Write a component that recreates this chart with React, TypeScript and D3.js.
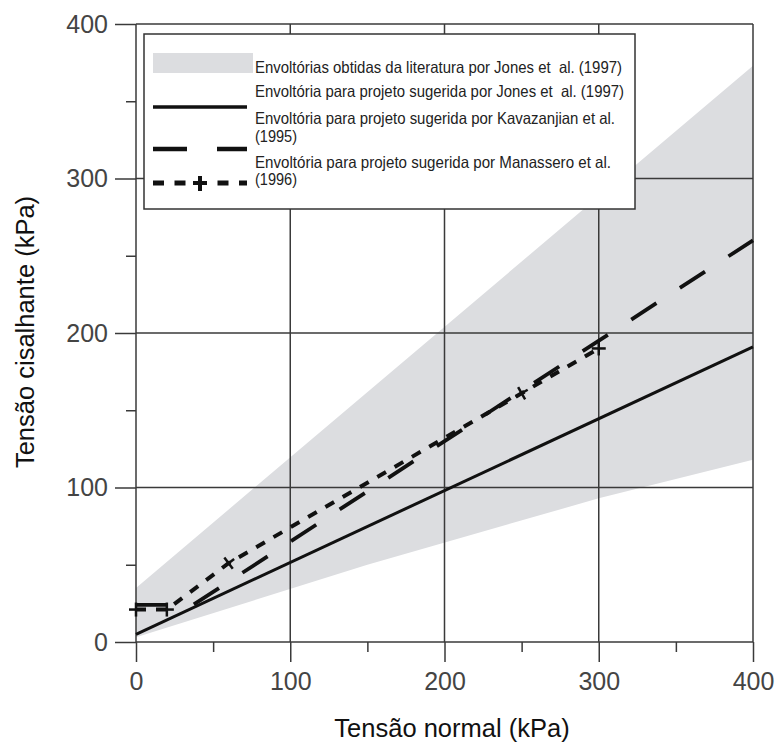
import React from "react";
import * as d3 from "d3";

// tick values (kPa)
const xMajor = [0, 100, 200, 300, 400];
const xMinor = [50, 150, 250, 350];
const yMajor = [0, 100, 200, 300, 400];
const yMinor = [50, 150, 250, 350];

// envelopes from literature, Jones et al. (1997) - shaded band
const envelopeUpper: [number, number][] = [[0, 35], [400, 373]];
const envelopeLower: [number, number][] = [[0, 3], [150, 50], [300, 93], [400, 118]];

// design envelopes
const jones: [number, number][] = [[0, 5], [400, 191]];
const kavazanjian: [number, number][] = [[0, 24], [37, 24], [400, 260]];
const manassero: [number, number][] = [[0, 21], [20, 21], [60, 51], [250, 161], [300, 190]];

const legendLabels = [
  ["Envoltórias obtidas da literatura por Jones et  al. (1997)"],
  ["Envoltória para projeto sugerida por Jones et  al. (1997)"],
  ["Envoltória para projeto sugerida por Kavazanjian et al.", "(1995)"],
  ["Envoltória para projeto sugerida por Manassero et al.", "(1996)"],
];

const xTitle = "Tensão normal (kPa)";
const yTitle = "Tensão cisalhante (kPa)";

const W = 779;
const H = 743;
const GRID = "#3a3a3a";
const SHADE = "#dcdde0";
const FONT = "'Liberation Sans', Arial, sans-serif";

function drawChart(node: SVGSVGElement) {
  const svg = d3.select(node);
  svg.selectAll("*").remove();

  const x = d3.scaleLinear().domain([0, 400]).range([136, 753]);
  const y = d3.scaleLinear().domain([0, 400]).range([642, 24]);

  const line = d3
    .line<[number, number]>()
    .x((d) => x(d[0]))
    .y((d) => y(d[1]));

  // shaded band
  const band = envelopeUpper.concat(envelopeLower.slice().reverse());
  svg.append("path").attr("d", line(band) + "Z").attr("fill", SHADE);

  // grid lines
  const grid = svg.append("g").attr("stroke", GRID).attr("stroke-width", 1.5);
  yMajor.forEach((v) => {
    grid.append("line").attr("x1", x(0)).attr("x2", x(400)).attr("y1", y(v)).attr("y2", y(v));
  });
  xMajor.forEach((v) => {
    grid.append("line").attr("x1", x(v)).attr("x2", x(v)).attr("y1", y(400)).attr("y2", y(0));
  });

  // axes
  const yAxis = svg
    .append("g")
    .attr("transform", `translate(${x(0)},0)`)
    .call(d3.axisLeft(y).tickValues(yMajor).tickSize(21).tickPadding(7).tickFormat(d3.format("d")));
  const yAxisMinor = svg
    .append("g")
    .attr("transform", `translate(${x(0)},0)`)
    .call(d3.axisLeft(y).tickValues(yMinor).tickSize(10).tickFormat(() => ""));
  const xAxis = svg
    .append("g")
    .attr("transform", `translate(0,${y(0)})`)
    .call(d3.axisBottom(x).tickValues(xMajor).tickSize(20).tickPadding(10).tickFormat(d3.format("d")));
  const xAxisMinor = svg
    .append("g")
    .attr("transform", `translate(0,${y(0)})`)
    .call(d3.axisBottom(x).tickValues(xMinor).tickSize(10).tickFormat(() => ""));
  [yAxis, yAxisMinor, xAxis, xAxisMinor].forEach((g) => {
    g.select(".domain").remove();
    g.selectAll("line").attr("stroke", GRID).attr("stroke-width", 1.5);
    g.selectAll("text").attr("font-family", FONT).attr("font-size", 25).attr("fill", "#444");
  });

  // Jones design line
  svg
    .append("path")
    .attr("d", line(jones))
    .attr("fill", "none")
    .attr("stroke", "#111")
    .attr("stroke-width", 3);

  // Kavazanjian long dash
  svg
    .append("path")
    .attr("d", line(kavazanjian))
    .attr("fill", "none")
    .attr("stroke", "#111")
    .attr("stroke-width", 3.8)
    .attr("stroke-dasharray", "30 28");

  // Manassero short dash with markers
  svg
    .append("path")
    .attr("d", line(manassero))
    .attr("fill", "none")
    .attr("stroke", "#111")
    .attr("stroke-width", 4)
    .attr("stroke-dasharray", "10 10");

  const marks = svg.append("g").attr("stroke", "#111").attr("stroke-width", 2.5);
  manassero.forEach((p, i) => {
    let ang = 0;
    if (i > 0 && i < manassero.length - 1) {
      const q = manassero[i - 1];
      ang = (Math.atan2(y(p[1]) - y(q[1]), x(p[0]) - x(q[0])) * 180) / Math.PI;
    }
    const m = marks.append("g").attr("transform", `translate(${x(p[0])},${y(p[1])}) rotate(${ang})`);
    m.append("line").attr("x1", -7).attr("x2", 7).attr("y1", 0).attr("y2", 0);
    m.append("line").attr("x1", 0).attr("x2", 0).attr("y1", -7).attr("y2", 7);
  });

  // legend
  const lg = svg.append("g");
  lg.append("rect")
    .attr("x", 144)
    .attr("y", 34)
    .attr("width", 491)
    .attr("height", 175)
    .attr("fill", "#fff")
    .attr("stroke", "#333")
    .attr("stroke-width", 1.5);

  lg.append("rect").attr("x", 153).attr("y", 53).attr("width", 100).attr("height", 20).attr("fill", SHADE);
  lg.append("line")
    .attr("x1", 153).attr("x2", 247).attr("y1", 107).attr("y2", 107)
    .attr("stroke", "#111").attr("stroke-width", 3.5);
  lg.append("line")
    .attr("x1", 153).attr("x2", 247).attr("y1", 149).attr("y2", 149)
    .attr("stroke", "#111").attr("stroke-width", 4.5).attr("stroke-dasharray", "34 30");
  lg.append("line")
    .attr("x1", 153).attr("x2", 247).attr("y1", 183).attr("y2", 183)
    .attr("stroke", "#111").attr("stroke-width", 5).attr("stroke-dasharray", "11 10.5");
  lg.append("rect").attr("x", 191).attr("y", 178).attr("width", 18).attr("height", 10).attr("fill", "#fff");
  lg.append("line").attr("x1", 193).attr("x2", 207).attr("y1", 183).attr("y2", 183)
    .attr("stroke", "#111").attr("stroke-width", 4);
  lg.append("line").attr("x1", 200).attr("x2", 200).attr("y1", 176).attr("y2", 191)
    .attr("stroke", "#111").attr("stroke-width", 4);

  const baselines = [[73], [97], [124, 142], [168, 185]];
  const widths = [[367], [369], [360, 42], [356, 42]];
  legendLabels.forEach((rows, i) => {
    rows.forEach((t, j) => {
      lg.append("text")
        .attr("x", 255)
        .attr("y", baselines[i][j])
        .attr("font-family", FONT)
        .attr("font-size", 16.5)
        .attr("fill", "#222")
        .attr("textLength", widths[i][j])
        .attr("lengthAdjust", "spacingAndGlyphs")
        .style("white-space", "pre")
        .text(t);
    });
  });

  // axis titles
  svg
    .append("text")
    .attr("x", 452)
    .attr("y", 737)
    .attr("text-anchor", "middle")
    .attr("font-family", FONT)
    .attr("font-size", 25.5)
    .attr("fill", "#111")
    .text(xTitle);
  svg
    .append("text")
    .attr("transform", `translate(34,332) rotate(-90)`)
    .attr("text-anchor", "middle")
    .attr("font-family", FONT)
    .attr("font-size", 25.5)
    .attr("fill", "#111")
    .text(yTitle);
}

export default function App() {
  const svgRef = React.useRef<SVGSVGElement>(null);

  React.useEffect(() => {
    if (svgRef.current) drawChart(svgRef.current);
  }, []);

  return (
    <svg
      ref={svgRef}
      width={W}
      height={H}
      style={{ position: "absolute", left: 0, top: 0, display: "block", background: "#fff" }}
    />
  );
}
